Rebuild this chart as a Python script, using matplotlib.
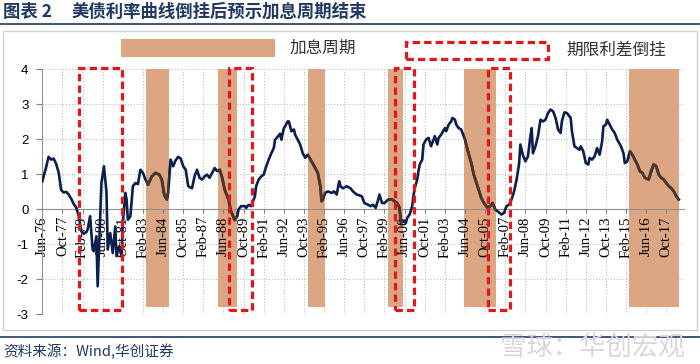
import matplotlib
matplotlib.use('Agg')
import matplotlib.pyplot as plt
import matplotlib.patches as patches
import pandas as pd

plt.rcParams['font.family'] = ['Noto Sans CJK SC', 'DejaVu Sans']

# 月份序号（从1976年6月起算）与 10Y-2Y 期限利差（%）
start = pd.Period('1976-06', freq='M')
months = [
    0, 3, 5, 7, 9, 11, 13, 15, 17, 19,
    21, 23, 25, 27, 29, 31, 33, 35, 36, 38,
    40, 41, 43, 44, 47, 49, 51, 52, 54, 56,
    58, 59, 61, 63, 64, 66, 67, 68, 70, 72,
    74, 76, 78, 80, 82, 84, 87, 90, 93, 95,
    97, 99, 100, 102, 104, 106, 108, 110, 112, 114,
    116, 119, 121, 123, 125, 127, 129, 131, 133, 135,
    137, 139, 141, 143, 145, 148, 150, 153, 155, 156,
    158, 161, 162, 164, 166, 168, 169, 170, 172, 174,
    176, 178, 180, 182, 184, 185, 187, 189, 190, 192,
    193, 195, 196, 198, 200, 201, 203, 205, 207, 209,
    211, 214, 217, 219, 221, 222, 223, 225, 227, 230,
    232, 234, 236, 237, 239, 242, 245, 247, 250, 252,
    254, 256, 259, 261, 263, 265, 267, 268, 270, 272,
    275, 278, 280, 282, 284, 285, 287, 289, 290, 292,
    294, 295, 296, 298, 299, 300, 302, 303, 305, 307,
    309, 311, 312, 314, 315, 317, 320, 321, 323, 325,
    326, 328, 329, 331, 333, 336, 338, 341, 343, 346,
    349, 351, 354, 356, 358, 360, 362, 365, 367, 369,
    371, 373, 375, 377, 379, 380, 382, 384, 386, 388,
    389, 390, 392, 394, 396, 398, 400, 402, 404, 406,
    408, 410, 412, 413, 415, 417, 419, 420, 421, 423,
    425, 427, 428, 430, 432, 434, 435, 437, 439, 441,
    443, 445, 446, 448, 449, 451, 453, 455, 457, 460,
    462, 463, 465, 467, 469, 471, 473, 475, 477, 479,
    482, 484, 486, 488, 490, 492, 494, 496, 498, 500,
    502, 504, 506,
]
spread = [
    0.80, 1.20, 1.50, 1.42, 1.45, 1.30, 1.05, 0.55, 0.48, 0.50,
    0.42, 0.30, 0.15, 0.05, -0.20, -0.63, -0.70, -0.65, -0.58, -0.20,
    -1.15, -1.20, -0.77, -2.20, 0.75, 1.23, 0.50, -1.15, -0.68, -1.25,
    -0.49, -1.34, -1.06, -1.34, -0.39, 0.47, 0.28, -0.30, -0.20, 0.66,
    0.75, 0.72, 1.13, 1.04, 0.85, 0.70, 0.94, 1.04, 0.99, 0.85,
    0.40, 0.28, 0.45, 1.42, 1.23, 1.40, 1.50, 1.45, 1.23, 1.13,
    0.66, 0.60, 0.94, 1.13, 0.90, 0.85, 0.94, 0.99, 0.90, 1.04,
    1.18, 1.09, 1.13, 0.90, 0.56, 0.28, -0.06, -0.31, -0.20, 0.00,
    0.09, 0.09, 0.04, 0.13, 0.09, 0.28, 0.37, 0.66, 0.85, 0.94,
    0.99, 1.23, 1.42, 1.60, 1.75, 1.99, 2.07, 2.16, 1.99, 2.32,
    2.37, 2.51, 2.51, 2.23, 2.28, 2.13, 1.99, 1.85, 1.60, 1.47,
    1.56, 1.37, 1.18, 1.04, 0.66, 0.23, 0.28, 0.47, 0.51, 0.47,
    0.51, 0.42, 0.80, 0.66, 0.60, 0.66, 0.60, 0.51, 0.42, 0.40,
    0.37, 0.18, 0.13, 0.09, 0.13, 0.04, 0.28, 0.42, 0.18, 0.18,
    0.28, 0.28, 0.23, 0.18, 0.04, -0.39, -0.34, -0.39, -0.25, -0.15,
    0.09, 0.37, 0.60, 0.85, 1.09, 1.28, 1.42, 1.85, 1.99, 2.04,
    1.80, 1.99, 2.09, 1.85, 2.04, 2.13, 2.32, 2.23, 2.42, 2.51,
    2.61, 2.56, 2.42, 2.32, 2.28, 1.99, 1.70, 1.32, 0.99, 0.66,
    0.32, 0.18, 0.04, 0.09, 0.18, 0.00, -0.06, -0.15, -0.10, 0.09,
    0.13, 0.28, 0.51, 0.85, 1.30, 1.85, 1.55, 1.37, 1.51, 2.09,
    2.32, 1.60, 1.80, 2.09, 2.56, 2.51, 2.56, 2.75, 2.85, 2.80,
    2.61, 2.28, 2.18, 2.51, 2.77, 2.75, 2.66, 2.61, 2.23, 1.80,
    1.75, 1.70, 1.80, 1.66, 1.32, 1.28, 1.47, 1.42, 1.51, 1.75,
    1.56, 1.94, 2.37, 2.42, 2.56, 2.42, 2.28, 2.18, 1.99, 1.80,
    1.60, 1.32, 1.37, 1.66, 1.56, 1.42, 1.28, 1.09, 1.04, 0.90,
    0.85, 1.09, 1.28, 1.23, 0.99, 0.90, 0.85, 0.75, 0.66, 0.60,
    0.51, 0.37, 0.28,
]

# 加息周期（起止月份序号）
hike_start = [82.5, 139.5, 211, 275, 335.5, 466.5]
hike_end = [101, 154.5, 225, 286.5, 360.5, 506.5]
# 期限利差倒挂区间
inv_start = [29.5, 148.5, 280.5, 354.5]
inv_end = [63.5, 167, 295.5, 371.5]

tick_months = list(range(0, 497, 16))
tick_labels = [(start + m).strftime('%b-%y') for m in tick_months]
y_ticks = list(range(-3, 5))

navy = '#0B1F4E'
brown = '#4E3426'
tan = '#DDA682'
red = '#E3161B'

fig = plt.figure(figsize=(7, 3.64), dpi=100)
ax = fig.add_axes([42.3 / 700, 1 - 314.3 / 364, 641.6 / 700, 245 / 364])

# 先定坐标轴位置（会重置刻度），再设刻度
for s in ['top', 'right']:
    ax.spines[s].set_visible(False)
ax.spines['bottom'].set_position(('data', 0))
ax.spines['bottom'].set_color('#909090')
ax.spines['left'].set_color('#909090')

# 网格线画在最底层，刻度标签保持在阴影之上
for y in y_ticks:
    ax.axhline(y, color='#C0C0C0', lw=0.8, ls=':', zorder=0)
for m in tick_months:
    ax.axvline(m, color='#C0C0C0', lw=0.8, ls=':', zorder=0)

# 加息周期阴影
bars = []
for a, b in zip(hike_start, hike_end):
    r = patches.Rectangle((a, -2.8), b - a, 6.8, facecolor=tan, edgecolor='none', zorder=1)
    ax.add_patch(r)
    bars.append(r)

ax.plot(months, spread, color=navy, lw=1.9, zorder=3)
# 阴影内的线段显示为棕色
for r in bars:
    ln, = ax.plot(months, spread, color=brown, lw=1.9, zorder=4)
    ln.set_clip_path(r)

# 倒挂区间红色虚线框
for a, b in zip(inv_start, inv_end):
    ax.add_patch(patches.Rectangle((a, -2.87), b - a, 6.92, fill=False, edgecolor=red,
                                   lw=2.3, linestyle=(0, (2.3, 1.3)), zorder=5, clip_on=False))

ax.set_xlim(0, 510)
ax.set_ylim(-3, 4)
ax.set_yticks(y_ticks)
ax.set_yticklabels([str(v) for v in y_ticks], family='Liberation Sans', fontsize=9.5)
ax.set_xticks(tick_months)
ax.set_xticklabels(tick_labels, rotation=90, family='Liberation Serif', fontsize=10.5, va='top')
ax.tick_params(axis='y', direction='out', length=4, color='#808080', pad=6)
ax.tick_params(axis='x', direction='out', length=3, color='#808080', pad=2)

# 图例
fig.patches.append(patches.Rectangle((121 / 700, 1 - 57 / 364), 154 / 700, 18 / 364,
                                     transform=fig.transFigure, facecolor=tan, edgecolor='none'))
fig.text(290 / 700, 1 - 48 / 364, '加息周期', fontsize=12, color='#333333', va='center')
fig.patches.append(patches.Rectangle((406 / 700, 1 - 59 / 364), 142 / 700, 17 / 364,
                                     transform=fig.transFigure, fill=False, edgecolor=red,
                                     lw=2.3, linestyle=(0, (2.3, 1.3))))
fig.text(566 / 700, 1 - 50 / 364, '期限利差倒挂', fontsize=12, color='#333333', va='center')

# 标题、边框与来源
fig.text(3 / 700, 1 - 12 / 364, '图表 2', fontsize=12.5, weight='bold', color='#1F3864', va='center')
fig.text(72 / 700, 1 - 12 / 364, '美债利率曲线倒挂后预示加息周期结束', fontsize=12.5,
         weight='bold', color='#1F3864', va='center')
fig.add_artist(plt.Line2D([0, 1], [1 - 24 / 364] * 2, color='#1F3864', lw=1.2, transform=fig.transFigure))
fig.patches.append(patches.Rectangle((3 / 700, 1 - 330 / 364), 694 / 700, 299 / 364,
                                     transform=fig.transFigure, fill=False, edgecolor='#D0D0D0', lw=1))
fig.add_artist(plt.Line2D([0, 1], [1 - 336.5 / 364] * 2, color='#1F3864', lw=1.2, transform=fig.transFigure))
fig.text(3 / 700, 1 - 352 / 364, '资料来源：Wind,华创证券', fontsize=10.5, color='#1F3864',
         va='center', style='italic')
fig.text(500 / 700, 1 - 348 / 364, '雪球：华创宏观', fontsize=19, color='#D8D8D8', va='center')

fig.savefig('out.png', dpi=100)
